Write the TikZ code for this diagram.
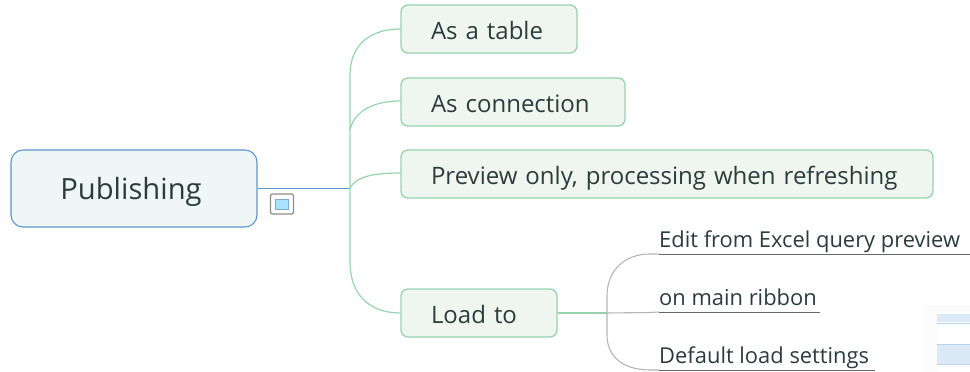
\documentclass[tikz,border=0pt]{standalone}
\usepackage{fontspec}
\setmainfont{Open Sans}
\definecolor{grn}{HTML}{96D3AE}
\definecolor{grnfill}{HTML}{EFF6EF}
\definecolor{blu}{HTML}{5C94CC}
\definecolor{blufill}{HTML}{EEF6F6}
\definecolor{gry}{HTML}{B4B4B4}
\definecolor{txt}{HTML}{2C3C3C}
\definecolor{band}{HTML}{DCE9F6}
\definecolor{bandline}{HTML}{BAD3EC}
\newcommand{\drop}[2]{\raisebox{-#1pt}[0pt][0pt]{#2}}
\tikzset{
  x=1pt,y=-1pt,
  topic/.style={draw=grn,fill=grnfill,line width=1.3pt,rounded corners=7pt,inner ysep=0pt,inner xsep=30pt,align=left,minimum height=48pt,text=txt,font=\fontsize{24}{29}\selectfont},
  root/.style={draw=blu,fill=blufill,line width=1.1pt,rounded corners=12pt,inner sep=0pt,minimum width=246pt,minimum height=77pt,text=txt,font=\fontsize{29.2}{34}\selectfont},
  leaf/.style={inner sep=0pt,anchor=base west,text=txt,font=\fontsize{21.9}{26}\selectfont},
  grnline/.style={draw=grn,line width=1.2pt},
  bluline/.style={draw=blu,line width=1pt},
  gryline/.style={draw=gry,line width=1.1pt},
  undl/.style={draw=black!60,line width=0.8pt},
}
\begin{document}
\begin{tikzpicture}
\useasboundingbox (0,0) rectangle (970,372);
% faint picture fragment
\fill[black!1.5] (925,305) rectangle (970,372);
\fill[white] (937,312) rectangle (970,372);
\fill[band] (937,314) rectangle (970,322);
\fill[band] (937,344) rectangle (970,364);
\draw[bandline,line width=0.8pt] (937,323) -- (970,323) (937,344) -- (970,344) (937,364) -- (970,364);
% nodes
\node[root] (pub) at (134,188.5) {\hspace{-6pt}\drop{10.5}{Publishing}};
\node[topic,text width=116pt] (t1) at (489,29) {\drop{10}{As a table}};
\node[topic,text width=164pt] (t2) at (513,102) {\drop{10}{As connection}};
\node[topic,text width=472pt] (t3) at (667,174) {\drop{10}{Preview only, processing when refreshing}};
\node[topic,text width=96pt] (t4) at (479,313) {\drop{10}{Load to}};
\coordinate (sp) at (350,188);
\coordinate (sq) at (350,130);
\coordinate (br) at (607,313);
\node[leaf] (l1) at (659,247) {Edit from Excel query preview};
\node[leaf] (l2) at (659,305) {on main ribbon};
\node[leaf] (l3) at (659,363) {Default load settings};
\coordinate (e1) at (970,254);
\coordinate (e2) at (820,312);
\coordinate (e3) at (875,370);
% icon
\node[draw=black!45,fill=white,line width=1.4pt,rounded corners=1.5pt,minimum width=23pt,minimum height=20pt,inner sep=0pt] (ic) at (282,204) {};
\node[draw=blu!80,fill=blue!30!cyan!35,line width=0.5pt,minimum width=13pt,minimum height=10pt,inner sep=0pt] (icin) at (ic.center) {};
% connectors
\draw[bluline] (pub.east |- sp) -- (sp);
\draw[grnline] (sp) -- (sq) -- (350,75) .. controls (350,45) and (370,29) .. (t1.west);
\draw[grnline] (sq) .. controls (354,112) and (372,101) .. (t2.west |- 0,101);
\draw[grnline] (sp) .. controls (356,177) and (372,173) .. (t3.west |- 0,173);
\draw[grnline] (sp) -- (350,262) .. controls (350,295) and (370,313) .. (t4.west);
\draw[grnline] (t4.east) -- (br);
\draw[gryline] (br) -- (607,296) .. controls (607,270) and (625,254) .. (650,254) -- (l1.west |- e1);
\draw[gryline] (br) -- (650,312.5) -- (l2.west |- e2);
\draw[gryline] (br) -- (607,335) .. controls (607,358) and (625,370) .. (650,370) -- (l3.west |- e3);
\draw[undl] (l1.west |- e1) -- (e1);
\draw[undl] (l2.west |- e2) -- (e2);
\draw[undl] (l3.west |- e3) -- (e3);
\end{tikzpicture}
\end{document}
